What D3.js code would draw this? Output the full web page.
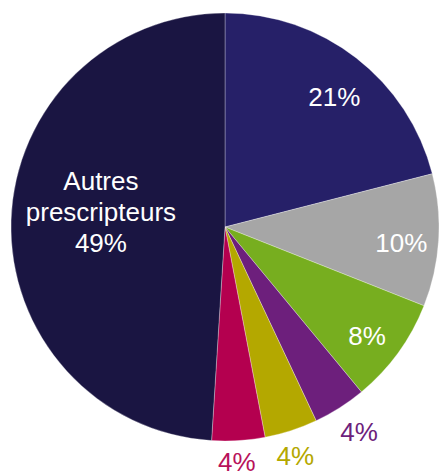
<!DOCTYPE html>
<html>
<head>
<meta charset="utf-8">
<script src="https://cdn.jsdelivr.net/npm/d3@7"></script>
<style>
  html, body { margin: 0; padding: 0; background: #fff; }
  svg { display: block; }
  text { font-family: "Liberation Sans", Arial, sans-serif; }
</style>
</head>
<body>
<svg width="439" height="474"></svg>
<script>
// slices, clockwise from 12 o'clock
const categories = ['A', 'B', 'C', 'D', 'E', 'F', 'Autres prescripteurs'];
const values     = [21, 10, 8, 4, 4, 4, 49];
const labels     = ['21%', '10%', '8%', '4%', '4%', '4%', '49%'];
const colors     = ['#262068', '#a6a6a6', '#77ae1f', '#6d1f7c', '#b4a800', '#b4004f', '#1a1542'];
const textColors = ['#ffffff', '#ffffff', '#ffffff', '#6d1f7c', '#b4a800', '#b8125a', '#ffffff'];

const cx = 225, cy = 227, radius = 214;

// label placement: radius + small angle nudge (degrees) off each slice's mid angle
const labelRadius = [170, 177, 179, 245, 239, 235, 125];
const labelNudge  = [2.2, 1.6, 1.5, -0.8, 0.9, 0.7, 5.1];

const svg = d3.select('svg');
const g = svg.append('g').attr('transform', `translate(${cx},${cy})`);

const pie = d3.pie().sort(null).value(d => d.value);
const data = categories.map((c, i) => ({ cat: c, value: values[i], label: labels[i], i: i }));
const arcs = pie(data);

const arc = d3.arc().innerRadius(0).outerRadius(radius);

g.selectAll('.slice')
    .data(arcs)
    .enter().append('path')
    .attr('class', 'slice')
    .attr('d', arc)
    .attr('fill', d => colors[d.data.i])
    .attr('stroke', 'rgba(255,255,255,0.5)')
    .attr('stroke-width', 0.6);

const fontSize = 26;
const lineH = 31;

const lbl = g.selectAll('.lbl')
    .data(arcs)
    .enter().append('text')
    .attr('class', 'lbl')
    .attr('text-anchor', 'middle')
    .attr('font-size', fontSize)
    .attr('fill', d => textColors[d.data.i])
    .attr('transform', d => {
        const i = d.data.i;
        const a = (d.startAngle + d.endAngle) / 2 + labelNudge[i] * Math.PI / 180;
        const r = labelRadius[i];
        return `translate(${r * Math.sin(a)},${-r * Math.cos(a)})`;
    });

lbl.each(function(d) {
    const t = d3.select(this);
    const lines = d.data.cat.length > 1 ? d.data.cat.split(' ').concat([d.data.label]) : [d.data.label];
    const off = (lines.length - 1) / 2;
    lines.forEach((l, k) => {
        t.append('tspan')
            .attr('x', 0)
            .attr('y', (k - off) * lineH + fontSize * 0.36)
            .text(l);
    });
});
</script>
</body>
</html>
